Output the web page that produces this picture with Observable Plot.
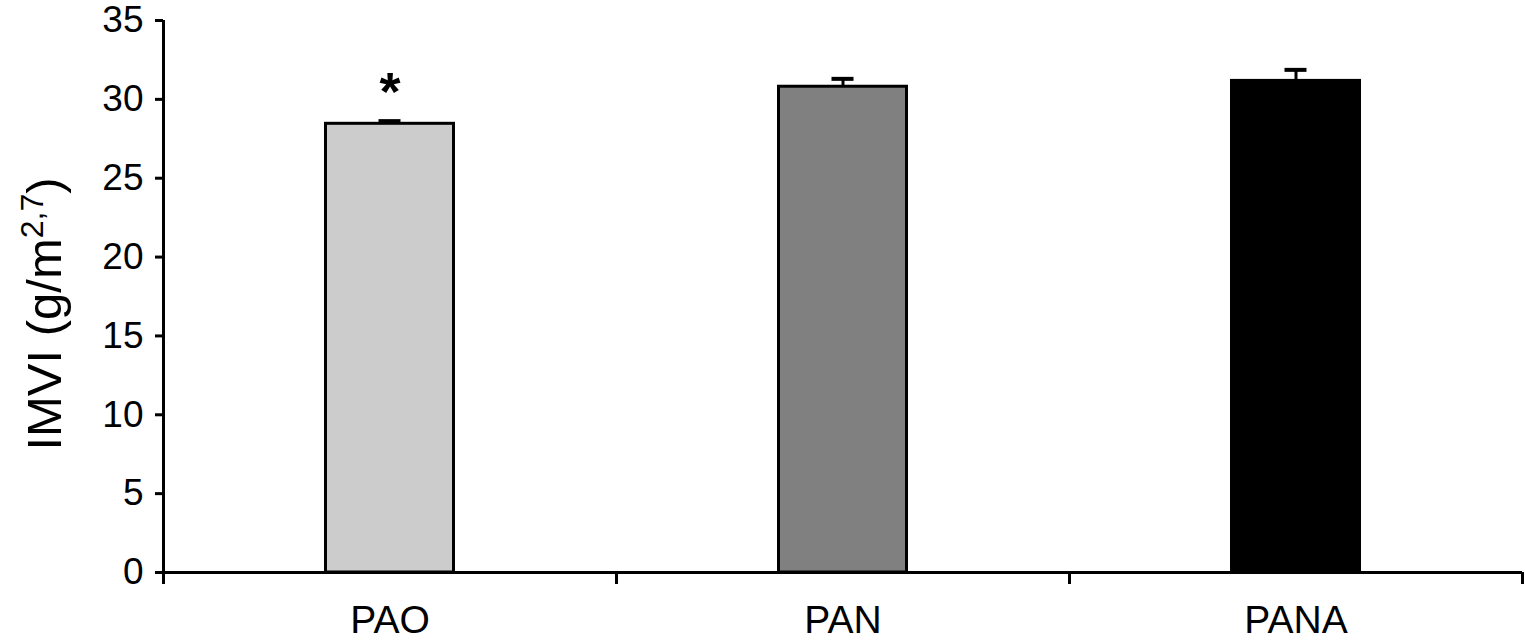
<!DOCTYPE html>
<html>
<head>
<meta charset="utf-8">
<script src="https://cdn.jsdelivr.net/npm/d3@7"></script>
<script src="https://cdn.jsdelivr.net/npm/@observablehq/plot@0.6"></script>
<style>
  html, body { margin: 0; padding: 0; background: #fff; }
  #chart svg { display: block; }
</style>
</head>
<body>
<div id="chart"></div>
<script>
// ---- data ----
const categories = ["PAO", "PAN", "PANA"];
const means = [28.45, 30.8, 31.17];
const errors = [0.17, 0.5, 0.7];
const significant = [true, false, false];
const yTicks = [0, 5, 10, 15, 20, 25, 30, 35];

// ---- style ----
const barColors = ["#cccccc", "#808080", "#000000"];
const FONT = "'Liberation Sans', Arial, Helvetica, sans-serif";
const W = 1525, H = 644;
const mL = 163, mR = 3, mT = 20, mB = 72;
const step = (W - mL - mR) / categories.length;
const barInset = (step - 128) / 2;

const rows = categories.map((c, i) => ({cat: c, mean: means[i], err: errors[i], sig: significant[i]}));

const plot = Plot.plot({
  width: W,
  height: H,
  marginLeft: mL,
  marginRight: mR,
  marginTop: mT,
  marginBottom: mB,
  style: {fontFamily: FONT, background: "#fff", color: "#000"},
  x: {domain: categories, padding: 0, axis: null},
  y: {domain: [0, 35], axis: null},
  color: {domain: categories, range: barColors},
  marks: [
    Plot.barY(rows, {x: "cat", y: "mean", fill: "cat", stroke: "#000", strokeWidth: 3,
      insetLeft: barInset, insetRight: barInset}),
    Plot.ruleX(rows, {x: "cat", y1: "mean", y2: d => d.mean + d.err, stroke: "#000", strokeWidth: 3}),
    Plot.tickY(rows, {x: "cat", y: d => d.mean + d.err, stroke: "#000", strokeWidth: 4,
      insetLeft: (step - 22) / 2, insetRight: (step - 22) / 2}),
    Plot.text(rows.filter(d => d.sig), {x: "cat", y: d => d.mean + d.err, text: () => "*",
      dy: -28, fontSize: 54, fontWeight: "bold", fill: "#000"}),
    // y axis
    Plot.axisY({ticks: yTicks, tickSize: 8, tickPadding: 12, fontSize: 37, label: null,
      strokeWidth: 3, stroke: "#000", tickFormat: d => String(d)}),
    Plot.ruleX([0], {x: () => categories[0], dx: -step / 2, stroke: "#000", strokeWidth: 3,
      y1: 0, y2: 35}),
    // x axis
    Plot.ruleY([0], {stroke: "#000", strokeWidth: 3}),
    Plot.axisX({tickSize: 0, tickPadding: 33, fontSize: 39, label: null}),
    Plot.axisX({ticks: categories, tickSize: 12, text: null, dx: -step / 2, strokeWidth: 3, label: null}),
    Plot.axisX({ticks: categories.slice(-1), tickSize: 12, text: null, dx: step / 2, strokeWidth: 3, label: null})
  ]
});

document.getElementById("chart").appendChild(plot);

// y axis title with superscript
const svg = d3.select(plot);
const yScale = plot.scale("y");
const midY = (yScale.range[0] + yScale.range[1]) / 2 + 18;
const t = svg.append("text")
  .attr("transform", `translate(61,${midY}) rotate(-90)`)
  .attr("text-anchor", "middle")
  .attr("font-family", FONT)
  .attr("font-size", 49)
  .attr("fill", "#000");
t.append("tspan").text("IMVI (g/m");
t.append("tspan").attr("baseline-shift", "super").attr("font-size", 32).text("2,7");
t.append("tspan").text(")");
</script>
</body>
</html>
